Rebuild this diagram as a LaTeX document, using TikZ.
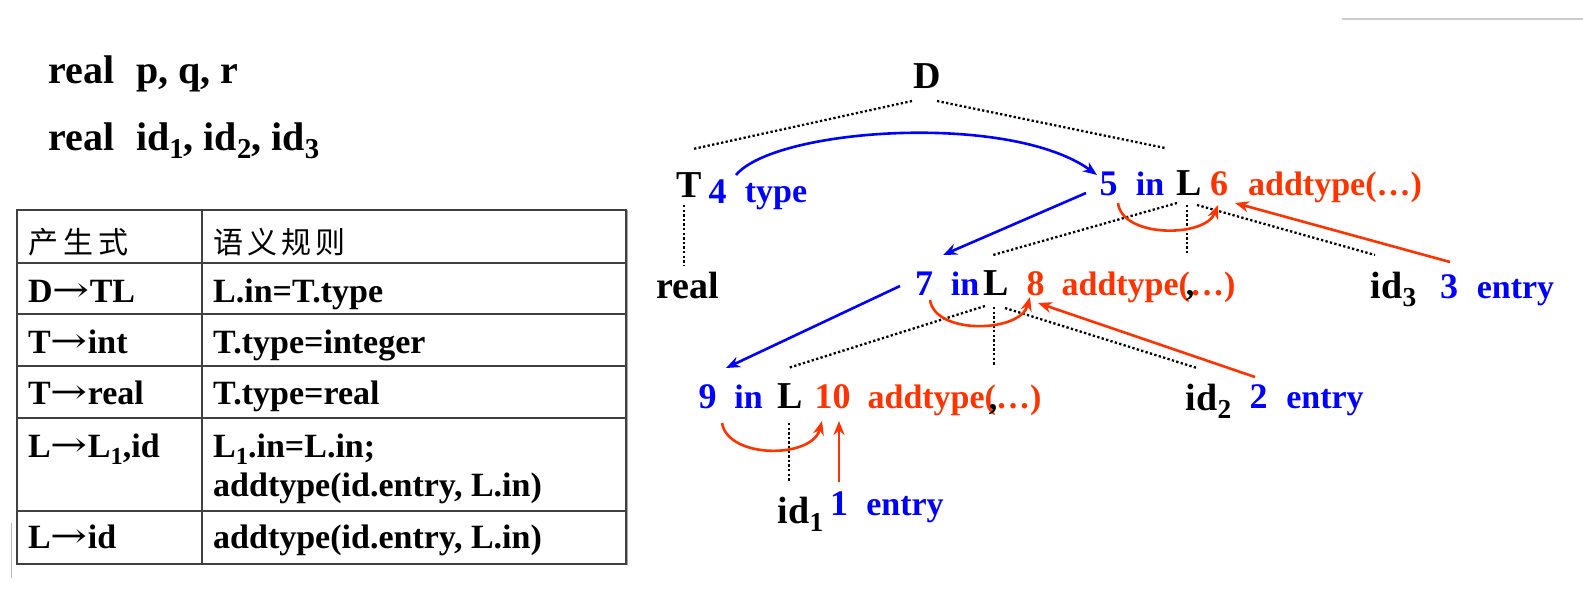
\documentclass[tikz,border=0pt]{standalone}
\usepackage{graphicx}
\usepackage{fontspec}
\setmainfont{Liberation Serif}
\newfontfamily\cjk{Noto Sans CJK SC}
\newfontfamily\arrowfont{DejaVu Serif}
\usetikzlibrary{arrows.meta,calc}
\definecolor{myblue}{RGB}{0,0,255}
\definecolor{myred}{RGB}{255,51,0}
\definecolor{tline}{RGB}{64,64,64}
\newcommand\subsc[1]{\raisebox{-0.22em}{\scalebox{0.72}{#1}}}
\newcommand\rarrow{\raisebox{0.02em}{\scalebox{1.3}[1.0]{\arrowfont\mdseries →}}}
\tikzset{
  txtbase/.style={inner sep=0pt, outer sep=0pt, anchor=base},
  blktxt/.style={txtbase, font=\fontsize{38}{40}\selectfont\bfseries, text=black},
  bluetxt/.style={txtbase, font=\fontsize{34}{36}\selectfont\bfseries, text=myblue},
  bluenum/.style={txtbase, font=\fontsize{36}{38}\selectfont\bfseries, text=myblue},
  redtxt/.style={txtbase, font=\fontsize{34}{36}\selectfont\bfseries, text=myred},
  rednum/.style={txtbase, font=\fontsize{36}{38}\selectfont\bfseries, text=myred},
  commatxt/.style={txtbase, font=\fontsize{34}{36}\selectfont\bfseries, text=black},
  toptxt/.style={inner sep=0pt, anchor=base west, font=\fontsize{40}{42}\selectfont\bfseries},
  celltxt/.style={inner sep=0pt, anchor=base west, font=\fontsize{34}{36}\selectfont\bfseries},
  headtxt/.style={inner sep=0pt, anchor=west, font=\fontsize{30}{32}\selectfont\cjk},
  tabline/.style={tline, line width=1.5pt},
  dotline/.style={black, line width=2.3pt, dash pattern=on 2.3pt off 2.3pt},
  bluearr/.style={myblue, line width=2.6pt, -{Stealth[length=14pt,width=11pt]}},
  redarr/.style={myred, line width=2.6pt, -{Stealth[length=14pt,width=11pt]}},
}
\begin{document}
\begin{tikzpicture}[x=1pt,y=-1pt]
\useasboundingbox (0,0) rectangle (1583,589);
\fill[white] (0,0) rectangle (1583,589);
\draw[gray!40, line width=1.5pt] (1342,19) -- (1583,19);
\draw[gray!55, line width=0.8pt] (11,523) -- (11,578);

% top-left text
\node[toptxt] (top1) at (48,83) {real\hspace{22pt}p, q, r};
\node[toptxt] (top2) at (48,150) {real\hspace{22pt}id\subsc{1}, id\subsc{2}, id\subsc{3}};

% table
\draw[tabline] (17,210) rectangle (626,564);
\foreach \yy in {263,314,366,418,511} \draw[tabline] (17,\yy) -- (626,\yy);
\draw[tabline] (202,210) -- (202,564);
\draw[gray!70, line width=1.2pt] (627.5,210) -- (627.5,565);
\node[headtxt] (h1) at (28,242) {产\hspace{5pt}生\hspace{5pt}式};
\node[headtxt] (h2) at (213,242) {语\hspace{4pt}义\hspace{4pt}规\hspace{4pt}则};
\node[celltxt] (p1) at (28,302) {D\rarrow TL};
\node[celltxt] (s1) at (213,302) {L.in=T.type};
\node[celltxt] (p2) at (28,353) {T\rarrow int};
\node[celltxt] (s2) at (213,353) {T.type=integer};
\node[celltxt] (p3) at (28,404) {T\rarrow real};
\node[celltxt] (s3) at (213,404) {T.type=real};
\node[celltxt] (p4) at (28,457) {L\rarrow L\subsc{1},id};
\node[celltxt] (s4a) at (213,457) {L\subsc{1}.in=L.in;};
\node[celltxt] (s4b) at (213,496) {addtype(id.entry, L.in)};
\node[celltxt] (p5) at (28,548) {L\rarrow id};
\node[celltxt] (s5) at (213,548) {addtype(id.entry, L.in)};

% tree nodes
\node[blktxt] (nD) at (927,88) {D};
\node[blktxt] (nT) at (689,197) {T};
\node[bluenum] (n4) at (717.5,203) {4};
\node[bluetxt] (ltype) at (776,202) {type};
\node[bluenum] (n5) at (1108.5,195) {5};
\node[bluetxt] (lin1) at (1150,195) {in};
\node[blktxt] (nL1) at (1189.5,195) {L};
\node[rednum] (n6) at (1219,195) {6};
\node[redtxt] (ladd1) at (1335,195) {addtype(…)};

\node[blktxt] (nreal) at (687.5,298) {real};
\node[bluenum] (n7) at (924,295) {7};
\node[bluetxt] (lin2) at (965,295) {in};
\node[blktxt] (nL2) at (996.5,295) {L};
\node[rednum] (n8) at (1035.5,295) {8};
\node[redtxt] (ladd2) at (1148.5,295) {addtype(…)};
\node[commatxt] (c2) at (1190,295) {,};
\node[blktxt] (nid3) at (1393.5,298) {id\subsc{3}};
\node[bluenum] (n3) at (1449,298) {3};
\node[bluetxt] (lent3) at (1515.5,298) {entry};

\node[bluenum] (n9) at (707.5,408) {9};
\node[bluetxt] (lin3) at (748.5,408) {in};
\node[blktxt] (nL3) at (790.5,408) {L};
\node[rednum] (n10) at (832.5,408) {10};
\node[redtxt] (ladd3) at (954.5,408) {addtype(…)};
\node[commatxt] (c3) at (993,409) {,};
\node[blktxt] (nid2) at (1208.5,410) {id\subsc{2}};
\node[bluenum] (n2) at (1258.5,408) {2};
\node[bluetxt] (lent2) at (1325,408) {entry};

\node[blktxt] (nid1) at (800.5,523) {id\subsc{1}};
\node[bluenum] (n1) at (839,515) {1};
\node[bluetxt] (lent1) at (905,515) {entry};

% dotted tree edges
\draw[dotline] ($(nD.base)+(-15,13)$) -- ($(nT.base)+(4,-48)$);
\draw[dotline] ($(nD.base)+(10,13)$) -- ($(nL1.base)+(-24.5,-47)$);
\draw[dotline] ($(nT.base)+(-5,8)$) -- ($(nreal.base)+(-3.5,-33)$);
\draw[dotline] ($(nL1.base)+(-12.5,8)$) -- ($(nL2.base)+(-3.5,-40)$);
\draw[dotline] ($(nL1.base)+(-2.5,10)$) -- ($(c2.base)+(-3,-42)$);
\draw[dotline] ($(nL1.base)+(7.5,10)$) -- ($(nid3.base)+(-18.5,-43)$);
\draw[dotline] ($(nL2.base)+(-11.5,11)$) -- ($(nL3.base)+(-2.5,-40)$);
\draw[dotline] ($(nL2.base)+(-2.5,12)$) -- ($(c3.base)+(1,-44)$);
\draw[dotline] ($(nL2.base)+(8.5,13)$) -- ($(nid2.base)+(-11.5,-42)$);
\draw[dotline] ($(nL3.base)+(-1.5,15)$) -- ($(nid1.base)+(-11.5,-41)$);

% blue dependency arrows
\draw[bluearr] ($(n4.base)+(18.5,-28)$) .. controls ($(n4.base)+(57.5,-75)$) and ($(n5.base)+(-98.5,-83)$) .. ($(n5.base)+(-11.5,-20)$);
\draw[bluearr] ($(n5.base)+(-22.5,-2)$) -- ($(n7.base)+(19,-40)$);
\draw[bluearr] ($(n7.base)+(-24,-9)$) -- ($(n9.base)+(18.5,-40)$);

% red dependency arrows
\draw[redarr] ($(n5.base)+(9.5,8)$) .. controls ($(n5.base)+(13.5,43)$) and ($(n6.base)+(-14,43)$) .. ($(n6.base)+(-1,10)$);
\draw[redarr] ($(n3.base)+(1,-36)$) -- ($(n6.base)+(16,8)$);
\draw[redarr] ($(n7.base)+(6,5)$) .. controls ($(n7.base)+(11,40)$) and ($(n8.base)+(-15.5,38)$) .. ($(n8.base)+(-5.5,2)$);
\draw[redarr] ($(n2.base)+(-3.5,-31)$) -- ($(n8.base)+(2.5,8)$);
\draw[redarr] ($(n9.base)+(14.5,15)$) .. controls ($(n9.base)+(20.5,51)$) and ($(n10.base)+(-20.5,51)$) .. ($(n10.base)+(-10.5,13)$);
\draw[redarr] ($(n1.base)+(0,-33)$) -- ($(n10.base)+(6.5,13)$);
\end{tikzpicture}
\end{document}
